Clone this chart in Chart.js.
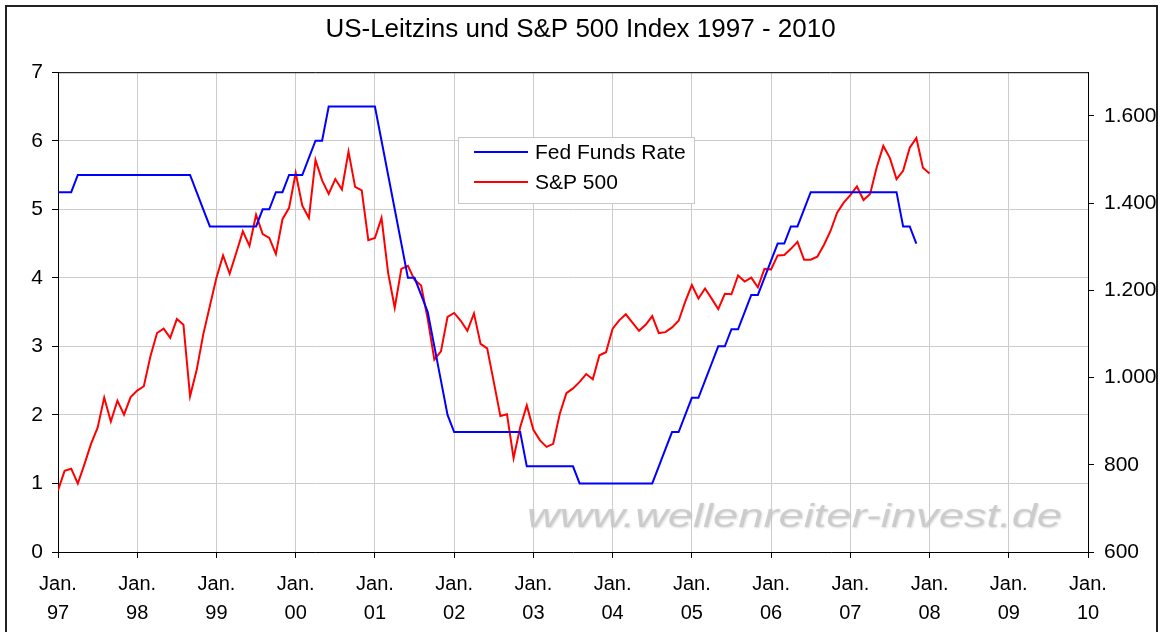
<!DOCTYPE html>
<html>
<head>
<meta charset="utf-8">
<title>US-Leitzins und S&amp;P 500 Index 1997 - 2010</title>
<script src="https://cdn.jsdelivr.net/npm/chart.js@4.4.1/dist/chart.umd.min.js"></script>
<style>
  html, body { margin: 0; padding: 0; background: #fff; }
</style>
</head>
<body>
<canvas id="canvas_1" width="1161" height="632"></canvas>
<script>
// x-Achse: Monatsindex, 0 = Jan. 97, alle 12 Monate ein Jahr
const yearLabels = ['97', '98', '99', '00', '01', '02', '03', '04', '05', '06', '07', '08', '09', '10'];
const leftTicks = [0, 1, 2, 3, 4, 5, 6, 7];
const rightTicks = [600, 800, 1000, 1200, 1400, 1600];

// Fed Funds Rate in %, monatlich ab Jan. 97
const fedFunds = [
  5.25, 5.25, 5.25, 5.5, 5.5, 5.5, 5.5, 5.5, 5.5, 5.5, 5.5, 5.5,
  5.5, 5.5, 5.5, 5.5, 5.5, 5.5, 5.5, 5.5, 5.5, 5.25, 5.0, 4.75,
  4.75, 4.75, 4.75, 4.75, 4.75, 4.75, 4.75, 5.0, 5.0, 5.25, 5.25, 5.5,
  5.5, 5.5, 5.75, 6.0, 6.0, 6.5, 6.5, 6.5, 6.5, 6.5, 6.5, 6.5,
  6.5, 6.0, 5.5, 5.0, 4.5, 4.0, 4.0, 3.75, 3.5, 3.0, 2.5, 2.0,
  1.75, 1.75, 1.75, 1.75, 1.75, 1.75, 1.75, 1.75, 1.75, 1.75, 1.75, 1.25,
  1.25, 1.25, 1.25, 1.25, 1.25, 1.25, 1.25, 1.0, 1.0, 1.0, 1.0, 1.0,
  1.0, 1.0, 1.0, 1.0, 1.0, 1.0, 1.0, 1.25, 1.5, 1.75, 1.75, 2.0,
  2.25, 2.25, 2.5, 2.75, 3.0, 3.0, 3.25, 3.25, 3.5, 3.75, 3.75, 4.0,
  4.25, 4.5, 4.5, 4.75, 4.75, 5.0, 5.25, 5.25, 5.25, 5.25, 5.25, 5.25,
  5.25, 5.25, 5.25, 5.25, 5.25, 5.25, 5.25, 5.25, 4.75, 4.75, 4.5
];

// S&P 500, Monatsschluss (erster Wert = Dez. 96)
const spx = [
  741,
  786, 791, 757, 801, 848, 885, 954, 899, 947, 915, 955, 970,
  980, 1049, 1102, 1112, 1091, 1134, 1121, 957, 1017, 1099, 1164, 1229,
  1280, 1238, 1286, 1335, 1302, 1373, 1329, 1320, 1283, 1363, 1389, 1469,
  1394, 1366, 1499, 1452, 1421, 1455, 1431, 1518, 1437, 1429, 1315, 1320,
  1366, 1240, 1160, 1249, 1256, 1224, 1211, 1134, 1041, 1060, 1139, 1148,
  1130, 1107, 1147, 1077, 1067, 990, 912, 916, 815, 886, 936, 880,
  856, 841, 848, 917, 964, 975, 990, 1008, 996, 1051, 1058, 1112,
  1131, 1145, 1126, 1107, 1121, 1141, 1102, 1104, 1115, 1130, 1174, 1212,
  1181, 1204, 1181, 1157, 1192, 1191, 1234, 1220, 1229, 1207, 1249, 1248,
  1280, 1281, 1295, 1311, 1270, 1270, 1277, 1304, 1336, 1378, 1401, 1418,
  1438, 1407, 1421, 1482, 1531, 1503, 1455, 1474, 1527, 1549, 1481, 1468
];

const fontName = "'Liberation Sans', Arial, sans-serif";
Chart.defaults.font.family = fontName;
Chart.defaults.color = '#000';

function fmtDE(v) {
  if (v < 1000) return String(v);
  return Math.floor(v / 1000) + '.' + String(v % 1000).padStart(3, '0');
}

// Rahmen, Wasserzeichen und Legende im Diagramm
const extras = {
  id: 'extras',
  beforeDatasetsDraw(chart) {
    const ctx = chart.ctx;
    const a = chart.chartArea;
    ctx.save();
    // watermark
    ctx.font = 'italic 34px ' + fontName;
    ctx.textBaseline = 'alphabetic';
    const txt = 'www.wellenreiter-invest.de';
    const w = ctx.measureText(txt).width;
    ctx.translate(527, 527);
    ctx.scale(535 / w, 1);
    ctx.shadowColor = 'rgba(170,170,170,0.5)';
    ctx.shadowBlur = 2;
    ctx.shadowOffsetX = 1;
    ctx.shadowOffsetY = 1;
    ctx.fillStyle = 'rgba(200,200,200,0.85)';
    ctx.fillText(txt, 0, 0);
    ctx.restore();

    ctx.save();
    ctx.strokeStyle = '#000';
    ctx.lineWidth = 1;
    ctx.beginPath();
    ctx.moveTo(a.left, a.top + 0.5);
    ctx.lineTo(a.right, a.top + 0.5);
    ctx.stroke();
    ctx.restore();
  },
  afterDraw(chart) {
    const ctx = chart.ctx;
    ctx.save();
    // legend box
    ctx.fillStyle = '#fff';
    ctx.fillRect(458, 137, 236, 66);
    ctx.strokeStyle = '#c8c8c8';
    ctx.lineWidth = 1;
    ctx.strokeRect(458.5, 137.5, 236, 66);
    ctx.font = '21px ' + fontName;
    ctx.textBaseline = 'middle';
    chart.data.datasets.forEach((ds, i) => {
      const y = 152 + i * 30;
      ctx.strokeStyle = ds.borderColor;
      ctx.lineWidth = 2;
      ctx.beginPath();
      ctx.moveTo(474, y);
      ctx.lineTo(528, y);
      ctx.stroke();
      ctx.fillStyle = '#000';
      ctx.fillText(ds.label, 535, y + 1);
    });
    // outer frame
    ctx.strokeStyle = '#222';
    ctx.lineWidth = 2;
    ctx.strokeRect(6, 6, 1151, 650);
    ctx.restore();
  }
};

const canvas = document.getElementById('canvas_1');
const ctx = canvas.getContext('2d');
const chart = new Chart(ctx, {
  type: 'line',
  data: {
    datasets: [{
      label: 'Fed Funds Rate',
      data: fedFunds.map((v, i) => ({ x: i, y: v })),
      borderColor: '#0000ff',
      backgroundColor: '#0000ff',
      borderWidth: 2,
      pointRadius: 0,
      tension: 0,
      yAxisID: 'y'
    }, {
      label: 'S&P 500',
      data: spx.map((v, i) => ({ x: i, y: v })),
      borderColor: '#ff0000',
      backgroundColor: '#ff0000',
      borderWidth: 2,
      pointRadius: 0,
      tension: 0,
      yAxisID: 'y1'
    }]
  },
  options: {
    responsive: false,
    animation: false,
    layout: { padding: 0 },
    plugins: {
      legend: { display: false },
      tooltip: { enabled: false },
      title: {
        display: true,
        text: 'US-Leitzins und S&P 500 Index 1997 - 2010',
        color: '#000',
        font: { size: 26, weight: 'normal' },
        padding: { top: 14, bottom: 27 }
      }
    },
    scales: {
      x: {
        type: 'linear',
        min: 0,
        max: (yearLabels.length - 1) * 12,
        afterBuildTicks: s => { s.ticks = yearLabels.map((y, i) => ({ value: i * 12 })); },
        afterFit: s => { s.height = 80; },
        ticks: {
          autoSkip: false,
          maxRotation: 0,
          padding: 12,
          font: { size: 20, lineHeight: '29px' },
          callback: v => ['Jan.', yearLabels[Math.round(v / 12)]]
        },
        grid: { color: '#cccccc', tickColor: '#000', tickLength: 6 },
        border: { color: '#000', width: 1 }
      },
      y: {
        position: 'left',
        min: 0,
        max: 7,
        afterBuildTicks: s => { s.ticks = leftTicks.map(v => ({ value: v })); },
        afterFit: s => { s.width = 58; },
        ticks: { padding: 9, font: { size: 21 } },
        grid: { color: '#cccccc', tickColor: '#000', tickLength: 6 },
        border: { color: '#000', width: 1 }
      },
      y1: {
        position: 'right',
        min: 600,
        max: 1700,
        afterBuildTicks: s => { s.ticks = rightTicks.map(v => ({ value: v })); },
        afterFit: s => { s.width = 73; },
        ticks: { padding: 10, font: { size: 21 }, callback: v => fmtDE(v) },
        grid: { drawOnChartArea: false, tickColor: '#000', tickLength: 6 },
        border: { color: '#000', width: 1 }
      }
    }
  },
  plugins: [extras]
});
</script>
</body>
</html>
